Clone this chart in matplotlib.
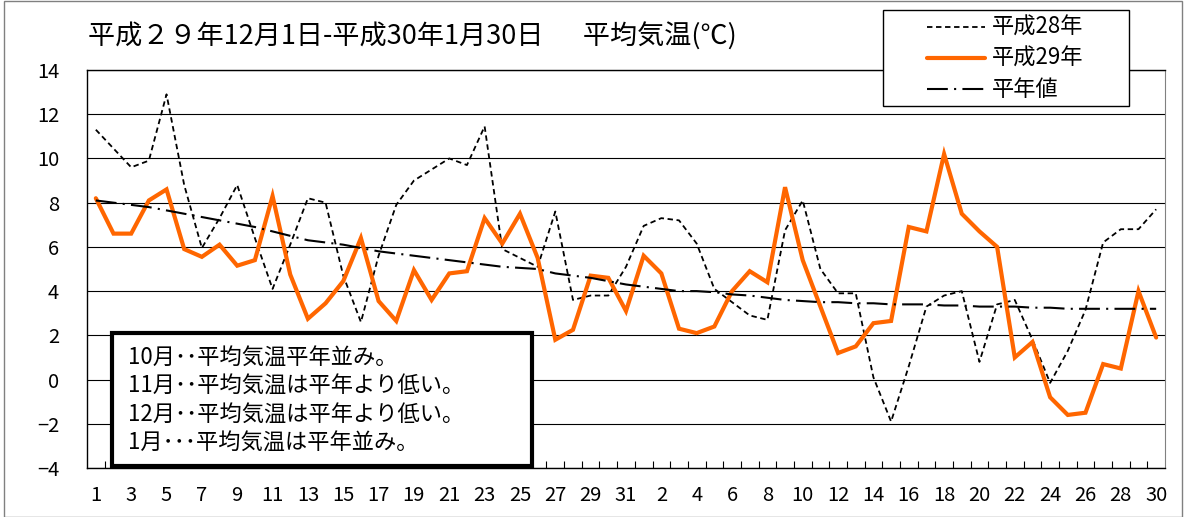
import matplotlib
matplotlib.use("Agg")
import matplotlib.pyplot as plt
from matplotlib.patches import Rectangle
from matplotlib.lines import Line2D

plt.rcParams['font.family'] = ['Noto Sans CJK JP', 'DejaVu Sans']

# day labels: Dec 1-31, Jan 1-30
days = list(range(1, 32)) + list(range(1, 31))

# 平成28年 (previous year)
h28 = [11.3, 10.45, 9.6, 9.9, 12.9, 8.8, 5.95, 7.3, 8.8, 6.4,
       4.1, 6.1, 8.2, 8.0, 4.7, 2.6, 5.6, 7.9, 9.0, 9.5,
       10.0, 9.7, 11.45, 5.9, 5.5, 5.1, 7.6, 3.6, 3.8, 3.8, 5.1,
       6.95, 7.3, 7.2, 6.15, 4.1, 3.5, 2.9, 2.7, 6.75, 8.1,
       5.0, 3.9, 3.9, 0.1, -1.9, 0.6, 3.3, 3.8, 4.0, 0.8,
       3.4, 3.6, 1.8, -0.15, 1.3, 3.15, 6.2, 6.8, 6.8, 7.7]

# 平成29年 (this year)
h29 = [8.2, 6.6, 6.6, 8.1, 8.6, 5.9, 5.55, 6.1, 5.15, 5.4,
       8.3, 4.75, 2.75, 3.45, 4.45, 6.4, 3.55, 2.65, 4.95, 3.6,
       4.8, 4.9, 7.3, 6.15, 7.5, 5.5, 1.8, 2.25, 4.7, 4.6, 3.1,
       5.6, 4.8, 2.3, 2.1, 2.4, 4.0, 4.9, 4.4, 8.7, 5.4,
       3.3, 1.2, 1.5, 2.55, 2.65, 6.9, 6.7, 10.2, 7.5, 6.7,
       6.0, 1.0, 1.7, -0.8, -1.6, -1.5, 0.7, 0.5, 4.0, 1.9]

# 平年値 (normal)
normal = [8.1, 8.0, 7.9, 7.8, 7.65, 7.5, 7.35, 7.2, 7.05, 6.9,
          6.7, 6.5, 6.3, 6.2, 6.1, 5.95, 5.8, 5.7, 5.6, 5.5,
          5.4, 5.3, 5.2, 5.1, 5.05, 5.0, 4.8, 4.7, 4.6, 4.45, 4.3,
          4.2, 4.1, 4.0, 4.0, 3.95, 3.85, 3.8, 3.7, 3.6, 3.55,
          3.5, 3.5, 3.45, 3.45, 3.4, 3.4, 3.4, 3.35, 3.35, 3.3,
          3.3, 3.3, 3.25, 3.25, 3.2, 3.2, 3.2, 3.2, 3.2, 3.2]

series_names = ['平成28年', '平成29年', '平年値']
title = '平成２９年12月1日-平成30年1月30日　  平均気温(℃)'
notes = ['10月･･平均気温平年並み。',
         '11月･･平均気温は平年より低い。',
         '12月･･平均気温は平年より低い。',
         '1月･･･平均気温は平年並み。']

styles = [dict(color='black', lw=1.3, linestyle=(0, (3, 2))),
          dict(color='#FF6600', lw=3, solid_joinstyle='miter', solid_capstyle='round'),
          dict(color='black', lw=1.5, linestyle=(0, (10, 3, 1, 3)))]

W, H = 1184, 517
fig = plt.figure(figsize=(W / 100, H / 100), dpi=100)
ax = fig.add_axes([87 / W, 1 - 468 / H, (1165 - 87) / W, (468 - 70) / H])

x = list(range(len(days)))
for vals, st, z in zip([h28, h29, normal], styles, [3, 4, 5]):
    ax.plot(x, vals, zorder=z, **st)

ax.set_xlim(-0.5, len(days) - 0.5)
ax.set_ylim(-4, 14)
ax.set_yticks(range(-4, 15, 2))
ax.set_xticks(x[::2])
ax.set_xticklabels([str(d) for d in days[::2]])
ax.set_xticks([i + 0.5 for i in x[:-1]], minor=True)
ax.tick_params(axis='x', which='major', length=0, pad=12, labelsize=14.5)
ax.tick_params(axis='x', which='minor', length=5, direction='in', width=0.8)
ax.tick_params(axis='y', length=0, pad=20, labelsize=14.5)
ax.yaxis.grid(True, color='black', lw=0.8)
ax.set_axisbelow(True)
for s in ['left', 'bottom', 'top']:
    ax.spines[s].set_linewidth(1.0)
ax.spines['right'].set_color('#808080')

fig.text(88 / W, 1 - 37 / H, title, fontsize=19.5, va='center', ha='left')

# legend box, drawn by hand
fig.add_artist(Rectangle((883 / W, 1 - 106 / H), 246 / W, 96 / H, transform=fig.transFigure,
                         facecolor='white', edgecolor='black', lw=1, zorder=4))
for i, (name, st) in enumerate(zip(series_names, styles)):
    yy = 1 - (27 + i * 31) / H
    fig.add_artist(Line2D([927 / W, 985 / W], [yy, yy], transform=fig.transFigure,
                          zorder=6, **st))
    fig.text(992 / W, yy, name, fontsize=16, va='center', ha='left', zorder=6)

# note box
fig.add_artist(Rectangle((112 / W, 1 - 466 / H), 420 / W, 133 / H, transform=fig.transFigure,
                         facecolor='white', edgecolor='black', lw=3, zorder=4))
for i, line in enumerate(notes):
    fig.text(128 / W, 1 - (358 + i * 28.5) / H, line, fontsize=16, va='center',
             ha='left', zorder=6)

# outer border
fig.add_artist(Rectangle((4 / W, 0.5 / H), 1178 / W, 515.5 / H, transform=fig.transFigure,
                         facecolor='none', edgecolor='#808080', lw=1, zorder=1))

fig.savefig('out.png', dpi=100)
